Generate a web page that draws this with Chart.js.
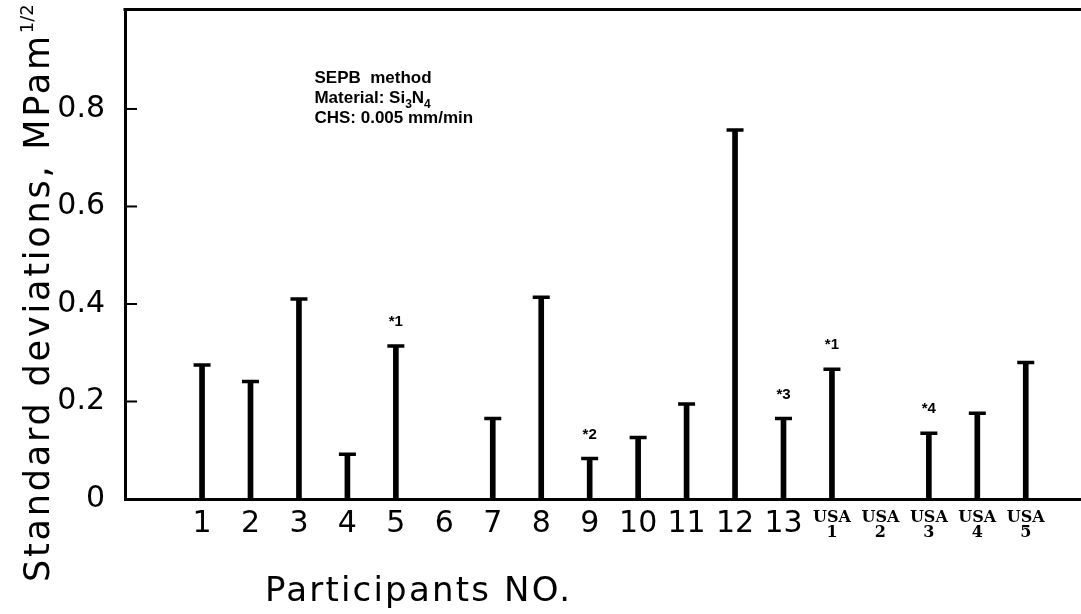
<!DOCTYPE html>
<html lang="en">
<head>
    <meta charset="UTF-8">
    <title>SEPB standard deviations</title>
    <script src="https://cdn.jsdelivr.net/npm/chart.js"></script>
    <style>
        html, body {
            margin: 0;
            padding: 0;
            background: #fff;
        }
        #wrap {
            width: 1081px;
            height: 614px;
        }
    </style>
</head>
<body>
    <div id="wrap">
        <canvas id="sdChart" width="1081" height="614"></canvas>
    </div>

    <script>
        // Participants (positions 1..18 on the x axis)
        var participants = ['1', '2', '3', '4', '5', '6', '7', '8', '9', '10', '11', '12', '13',
            ['USA', '1'], ['USA', '2'], ['USA', '3'], ['USA', '4'], ['USA', '5']];
        // Standard deviation per participant, MPa m^1/2 (null = no result)
        var stdDev = [0.275, 0.241, 0.410, 0.092, 0.314, null, 0.165, 0.414, 0.083, 0.126,
            0.195, 0.757, 0.165, 0.266, null, 0.135, 0.176, 0.280];
        // Footnote marks above some bars
        var notes = ['', '', '', '', '*1', '', '', '', '*2', '', '', '', '*3', '*1', '', '*4', '', ''];
        var yTicks = [0, 0.2, 0.4, 0.6, 0.8];
        // "_x" = subscript
        var infoLines = ['SEPB  method', 'Material: Si_3N_4', 'CHS: 0.005 mm/min'];
        var yTitle = 'Standard deviations, MPam';
        var yTitleSup = '1/2';
        var xTitle = 'Participants NO.';

        var sansFont = "'DejaVu Sans', sans-serif";
        var serifFont = "'DejaVu Serif', serif";
        var boldFont = "'Liberation Sans', Arial, sans-serif";

        var barPoints = stdDev.map(function (v, i) { return { x: i + 1, y: v }; });

        // no extra room for overhanging tick labels
        function noPadding(axis) {
            axis.paddingTop = 0;
            axis.paddingBottom = 0;
            axis.paddingLeft = 0;
            axis.paddingRight = 0;
        }

        // frame top line, inner y ticks, notes, info text and axis titles
        var extras = {
            id: 'extras',
            afterDraw: function (chart) {
                var ctx = chart.ctx;
                var area = chart.chartArea;
                var xs = chart.scales.x;
                var ys = chart.scales.y;
                ctx.save();
                ctx.strokeStyle = '#000';
                ctx.fillStyle = '#000';

                // top line of the frame
                ctx.lineWidth = 3;
                ctx.beginPath();
                ctx.moveTo(area.left - 1.5, area.top);
                ctx.lineTo(area.right, area.top);
                ctx.stroke();

                // inward tick marks
                ctx.lineWidth = 2;
                yTicks.forEach(function (t) {
                    if (t === 0) return;
                    var py = ys.getPixelForValue(t);
                    ctx.beginPath();
                    ctx.moveTo(area.left, py);
                    ctx.lineTo(area.left + 12, py);
                    ctx.stroke();
                });

                // footnote marks
                ctx.font = 'bold 15px ' + boldFont;
                ctx.textAlign = 'center';
                ctx.textBaseline = 'alphabetic';
                notes.forEach(function (n, i) {
                    if (!n || stdDev[i] == null) return;
                    ctx.fillText(n, xs.getPixelForValue(i + 1), ys.getPixelForValue(stdDev[i]) - 20);
                });

                // info block
                ctx.textAlign = 'left';
                var ix = xs.getPixelForValue(3.32);
                var iy = ys.getPixelForValue(0.853);
                infoLines.forEach(function (line, li) {
                    var x = ix;
                    var y = iy + li * 20;
                    var parts = line.split('_');
                    parts.forEach(function (p, pi) {
                        if (pi === 0) {
                            ctx.font = 'bold 17px ' + boldFont;
                            ctx.fillText(p, x, y);
                            x += ctx.measureText(p).width;
                        } else {
                            ctx.font = 'bold 12px ' + boldFont;
                            ctx.fillText(p[0], x, y + 5);
                            x += ctx.measureText(p[0]).width;
                            var rest = p.slice(1);
                            ctx.font = 'bold 17px ' + boldFont;
                            ctx.fillText(rest, x, y);
                            x += ctx.measureText(rest).width;
                        }
                    });
                });

                // y axis title with superscript
                ctx.save();
                ctx.translate(49, 582);
                ctx.rotate(-Math.PI / 2);
                ctx.font = '35px ' + sansFont;
                ctx.letterSpacing = '2.8px';
                ctx.fillText(yTitle, 0, 0);
                var w = ctx.measureText(yTitle).width;
                ctx.font = '18px ' + sansFont;
                ctx.letterSpacing = '0px';
                ctx.fillText(yTitleSup, w, -16);
                ctx.restore();

                // x axis title
                ctx.font = '34px ' + sansFont;
                ctx.letterSpacing = '2.2px';
                ctx.fillText(xTitle, 265, 601);
                ctx.restore();
            }
        };

        var chart = new Chart(document.getElementById('sdChart'), {
            type: 'bar',
            data: {
                datasets: [{
                    type: 'bar',
                    data: barPoints,
                    backgroundColor: '#000',
                    borderWidth: 0,
                    barThickness: 5
                }, {
                    type: 'scatter',
                    data: barPoints,
                    pointStyle: 'line',
                    pointRadius: 8.5,
                    pointBorderWidth: 3.5,
                    pointBorderColor: '#000',
                    pointBackgroundColor: '#000'
                }]
            },
            options: {
                responsive: false,
                animation: false,
                layout: { autoPadding: false, padding: { top: 9.5, right: 0, bottom: 0, left: 0 } },
                plugins: {
                    legend: { display: false },
                    tooltip: { enabled: false }
                },
                scales: {
                    x: {
                        type: 'linear',
                        offset: false,
                        min: -0.59,
                        max: 19.14,
                        afterFit: function (axis) { axis.height = 115; noPadding(axis); },
                        afterBuildTicks: function (axis) {
                            axis.ticks = participants.map(function (p, i) { return { value: i + 1 }; });
                        },
                        grid: { display: false, offset: false, drawTicks: false, tickLength: 0 },
                        border: { display: true, color: '#000', width: 3 },
                        ticks: {
                            autoSkip: false,
                            maxRotation: 0,
                            padding: 11,
                            color: '#000',
                            callback: function (value) { return participants[value - 1]; },
                            font: function (c) {
                                if (c.index >= 13) {
                                    return { family: serifFont, size: 16, weight: 'bold', lineHeight: 0.94 };
                                }
                                return { family: sansFont, size: 30, lineHeight: 0.97 };
                            }
                        }
                    },
                    y: {
                        min: 0,
                        max: 1.004,
                        afterFit: function (axis) { axis.width = 125; noPadding(axis); },
                        afterBuildTicks: function (axis) {
                            axis.ticks = yTicks.map(function (t) { return { value: t }; });
                        },
                        grid: { display: false, drawTicks: false, tickLength: 0 },
                        border: { display: true, color: '#000', width: 3 },
                        ticks: {
                            padding: 20,
                            color: '#000',
                            font: { family: sansFont, size: 30 },
                            callback: function (value) { return value === 0 ? '0' : value.toFixed(1); }
                        }
                    }
                }
            },
            plugins: [extras]
        });
    </script>
</body>
</html>
